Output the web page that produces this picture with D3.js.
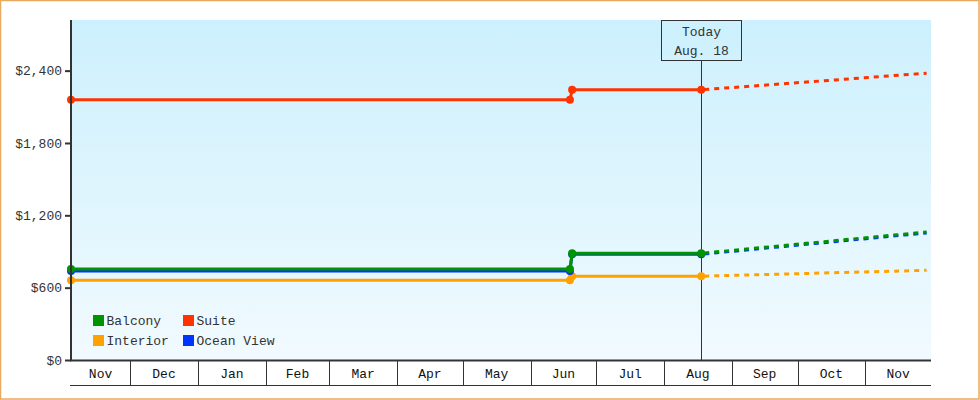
<!DOCTYPE html>
<html><head><meta charset="utf-8">
<script src="https://cdn.jsdelivr.net/npm/d3@7"></script>
<style>
html,body{margin:0;padding:0;background:#fff;}
svg{display:block;font-family:"Liberation Mono",monospace;}
</style></head>
<body><svg id="c" width="980" height="400"></svg>
<script>
const categories = ["Balcony", "Suite", "Interior", "Ocean View"];
const seriesColors = ["#009400", "#ff3300", "#ffa200", "#0033ff"];
const historyDates = ["2023-11-04", "2024-06-19", "2024-06-20", "2024-08-18"];
const balconyHistory = [755, 755, 885, 885];
const suiteHistory = [2158, 2158, 2241, 2241];
const interiorHistory = [661, 661, 695, 695];
const oceanViewHistory = [739, 739, 877, 877];
const projectionDates = ["2024-08-18", "2024-11-29"];
const balconyProjection = [885, 1062];
const suiteProjection = [2241, 2379];
const interiorProjection = [695, 744];
const oceanViewProjection = [877, 1054];
const yTicks = [0, 600, 1200, 1800, 2400];
const todayLabel = ["Today", "Aug. 18"];
const todayDate = "2024-08-18";
const domainDates = ["2023-11-04", "2024-12-01"];

const parse = d3.timeParse("%Y-%m-%d");
const svg = d3.select("#c");
const W = 980, H = 400;
const m = {l: 71, r: 49, t: 20, b: 40};
const x0 = m.l, x1 = W - m.r, y0 = m.t, y1 = H - m.b;

const x = d3.scaleTime().domain(domainDates.map(parse)).range([x0, x1]);
const y = d3.scaleLinear().domain([0, 2820]).range([y1, y0]);

// border
svg.append("rect").attr("x", 0.5).attr("y", 0.5).attr("width", W - 1.5).attr("height", H - 1.5)
  .attr("fill", "#fff").attr("stroke", "#e8a960").attr("stroke-width", 1.5);

// gradient background
const defs = svg.append("defs");
const g = defs.append("linearGradient").attr("id", "bg").attr("x1", 0).attr("y1", 0).attr("x2", 0).attr("y2", 1);
g.append("stop").attr("offset", "0%").attr("stop-color", "#ccf0fd");
g.append("stop").attr("offset", "100%").attr("stop-color", "#f1faff");
svg.append("rect").attr("x", x0).attr("y", y0).attr("width", x1 - x0).attr("height", y1 - y0).attr("fill", "url(#bg)");

// legend
const legend = svg.append("g");
const legendOrder = [[0, 0], [1, 0], [0, 1], [1, 1]];
categories.forEach((c, i) => {
  const [col, row] = legendOrder[i];
  const lx = 93 + col * 90, ly = 315 + row * 20;
  legend.append("rect").attr("x", lx).attr("y", ly).attr("width", 11).attr("height", 11).attr("fill", seriesColors[i]);
  legend.append("text").attr("x", lx + 13.5).attr("y", ly + 10).attr("font-size", 13).attr("fill", "#333").text(c);
});

// today marker
const tx = Math.round(x(parse(todayDate))) + 0.5;
svg.append("line").attr("x1", tx).attr("x2", tx).attr("y1", 60).attr("y2", y1).attr("stroke", "#333").attr("stroke-width", 1);
svg.append("rect").attr("x", tx - 40).attr("y", y0 + 0.5).attr("width", 80).attr("height", 40).attr("fill", "none").attr("stroke", "#333").attr("stroke-width", 1);
svg.append("text").attr("x", tx).attr("y", 36).attr("text-anchor", "middle").attr("font-size", 13).attr("fill", "#333").text(todayLabel[0]);
svg.append("text").attr("x", tx).attr("y", 55).attr("text-anchor", "middle").attr("font-size", 13).attr("fill", "#333").text(todayLabel[1]);

// series
const hist = [balconyHistory, suiteHistory, interiorHistory, oceanViewHistory];
const proj = [balconyProjection, suiteProjection, interiorProjection, oceanViewProjection];
const drawOrder = [2, 3, 0, 1];
const line = d3.line().x(d => x(d[0])).y(d => y(d[1]));
drawOrder.forEach(i => {
  const hp = historyDates.map((d, k) => [parse(d), hist[i][k]]);
  const pp = projectionDates.map((d, k) => [parse(d), proj[i][k]]);
  svg.append("path").attr("d", line(pp)).attr("fill", "none").attr("stroke", seriesColors[i])
    .attr("stroke-width", 3).attr("stroke-dasharray", "5,5").attr("stroke-dashoffset", -3);
  svg.append("path").attr("d", line(hp)).attr("fill", "none").attr("stroke", seriesColors[i]).attr("stroke-width", 3);
  svg.selectAll(null).data(hp).enter().append("circle")
    .attr("cx", d => x(d[0])).attr("cy", d => y(d[1])).attr("r", 4).attr("fill", seriesColors[i]);
});

// y axis
const ya = svg.append("g").attr("transform", `translate(${x0},0)`)
  .call(d3.axisLeft(y).tickValues(yTicks).tickFormat(d => "$" + d3.format(",")(d)).tickSize(6).tickPadding(3).tickSizeOuter(0));
ya.select(".domain").remove();
ya.selectAll(".tick line").attr("stroke", "#333").attr("stroke-width", 2);
ya.selectAll(".tick text").attr("font-size", 13).attr("fill", "#333").attr("font-family", "Liberation Mono, monospace");
svg.append("line").attr("x1", x0).attr("x2", x0).attr("y1", y0).attr("y2", y1 + 1).attr("stroke", "#333").attr("stroke-width", 2);

// month axis
const monthStarts = d3.timeMonth.range(d3.timeMonth.floor(x.domain()[0]), x.domain()[1]);
const ma = svg.append("g");
ma.append("line").attr("x1", x0 - 1).attr("x2", x1).attr("y1", y1 + 0.5).attr("y2", y1 + 0.5).attr("stroke", "#333").attr("stroke-width", 2);
ma.append("line").attr("x1", x0 - 1).attr("x2", x1).attr("y1", y1 + 25.5).attr("y2", y1 + 25.5).attr("stroke", "#333").attr("stroke-width", 1);
monthStarts.forEach(ms => {
  const a = Math.max(x(ms), x0);
  const b = Math.min(x(d3.timeMonth.offset(ms, 1)), x1);
  if (x(ms) > x0) {
    const sx = Math.round(x(ms)) + 0.5;
    ma.append("line").attr("x1", sx).attr("x2", sx).attr("y1", y1).attr("y2", y1 + 25).attr("stroke", "#333").attr("stroke-width", 1);
  }
  ma.append("text").attr("x", (a + b) / 2).attr("y", y1 + 17.5).attr("text-anchor", "middle")
    .attr("font-size", 13).attr("fill", "#111").text(d3.timeFormat("%b")(ms));
});
</script></body></html>
